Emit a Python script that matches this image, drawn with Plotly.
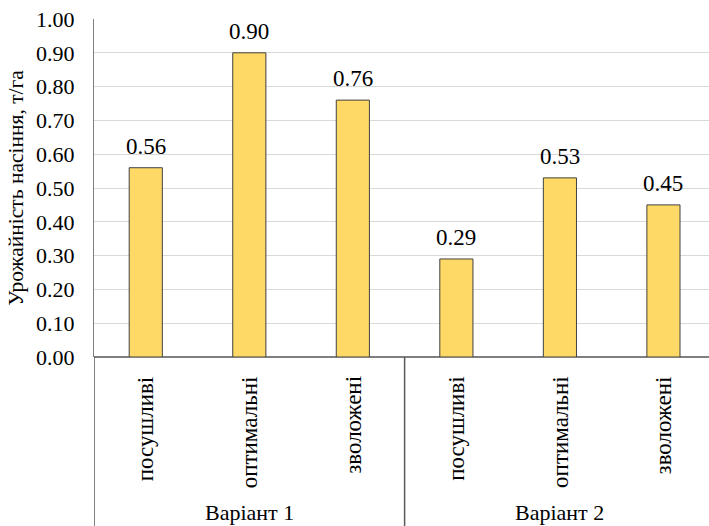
import plotly.graph_objects as go

groups = ["Варіант 1", "Варіант 2"]
conditions = ["посушливі", "оптимальні", "зволожені"]
values_v1 = [0.56, 0.90, 0.76]
values_v2 = [0.29, 0.53, 0.45]
y_ticks = [0.0, 0.1, 0.2, 0.3, 0.4, 0.5, 0.6, 0.7, 0.8, 0.9, 1.0]

values = values_v1 + values_v2
cats = conditions * len(groups)
xs = list(range(len(values)))

FONT = "Times New Roman, serif"
BLACK = "#000000"

fig = go.Figure()
fig.add_trace(go.Bar(
    x=xs, y=values, width=0.32,
    marker=dict(color="#FFD966", line=dict(color="#404040", width=1)),
    cliponaxis=False, showlegend=False, hoverinfo="skip",
))

# data labels
for x, v in zip(xs, values):
    fig.add_annotation(x=x, y=v, xref="x", yref="y", text=f"{v:.2f}", showarrow=False,
                       xanchor="center", yanchor="bottom", yshift=7,
                       font=dict(family=FONT, size=23, color=BLACK))

# category labels
for i, c in enumerate(cats):
    fig.add_annotation(x=i, y=1, xref="x", yref="paper", yshift=-(338 + 17),
                       text=c, textangle=-90, showarrow=False,
                       xanchor="center", yanchor="top",
                       font=dict(family=FONT, size=23, color=BLACK))

n = len(conditions)
for g, name in enumerate(groups):
    fig.add_annotation(x=g * n + (n - 1) / 2, y=0, xref="x", yref="paper", yshift=-155,
                       text=name, showarrow=False, xanchor="center", yanchor="middle",
                       font=dict(family=FONT, size=22, color=BLACK))

for b in [-0.5, n - 0.5]:
    fig.add_shape(type="line", xref="x", yref="paper", x0=b, x1=b, y0=0, y1=-0.52,
                  line=dict(color="#595959", width=1.5))

fig.update_layout(
    width=709, height=526,
    margin=dict(l=94, r=0, t=19, b=169),
    paper_bgcolor="white", plot_bgcolor="white",
    font=dict(family=FONT, color=BLACK),
    xaxis=dict(range=[-0.5, 5.44], showticklabels=False, showgrid=False, zeroline=False,
               showline=False, ticks=""),
    yaxis=dict(range=[0, 1.0], tickvals=y_ticks, ticktext=[f"{t:.2f}" for t in y_ticks],
               showgrid=True, gridcolor="#d9d9d9", gridwidth=1, zeroline=True,
               zerolinecolor="#7f7f7f", zerolinewidth=1.5,
               showline=True, linecolor="#7f7f7f", linewidth=1, ticks="",
               ticklabelstandoff=14,
               tickfont=dict(family=FONT, size=22, color=BLACK),
               title=dict(text="Урожайність насіння, т/га", standoff=6,
                          font=dict(family=FONT, size=21.5, color=BLACK))),
)

fig.write_html("out.html", config={"displayModeBar": False},
               post_script="document.body.style.margin='0';document.body.style.padding='0';")
